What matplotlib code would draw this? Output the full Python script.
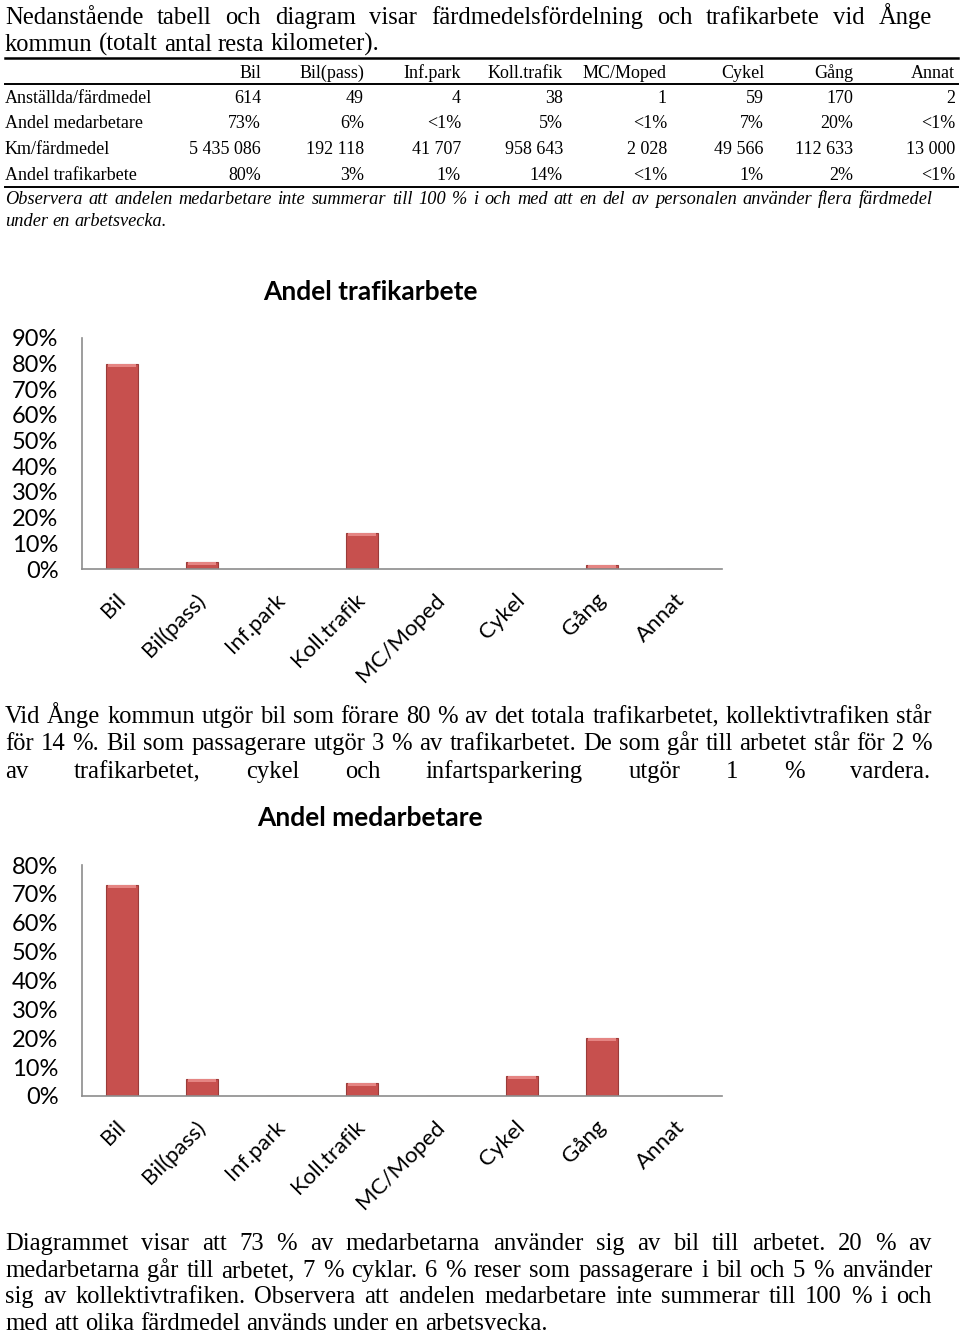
import numpy as np
import matplotlib
matplotlib.use('Agg')
import matplotlib.pyplot as plt
from matplotlib.lines import Line2D
from matplotlib.transforms import IdentityTransform

# Table and chart data (Ånge kommun)
categories = ['Bil', 'Bil(pass)', 'Inf.park', 'Koll.trafik', 'MC/Moped', 'Cykel', 'Gång', 'Annat']
row_names = ['Anställda/färdmedel', 'Andel medarbetare', 'Km/färdmedel', 'Andel trafikarbete']
anstallda = ['614', '49', '4', '38', '1', '59', '170', '2']
andel_med_txt = ['73%', '6%', '<1%', '5%', '<1%', '7%', '20%', '<1%']
km = ['5 435 086', '192 118', '41 707', '958 643', '2 028', '49 566', '112 633', '13 000']
andel_trafik_txt = ['80%', '3%', '1%', '14%', '<1%', '1%', '2%', '<1%']

# bar heights as drawn in the two diagrams
trafikarbete = [0.80, 0.027, 0.0, 0.14, 0.0, 0.0, 0.017, 0.0]
medarbetare = [0.73, 0.058, 0.0, 0.045, 0.0, 0.07, 0.20, 0.0]

W, H = 960, 1338
fig = plt.figure(figsize=(9.6, 13.38), dpi=100)
r = fig.canvas.get_renderer()
SERIF = 'Liberation Serif'
SANS = 'Lato'
PSIZE = 17.7


def put(s, x, y, **kw):
    # x, y in pixels from the top-left corner
    return fig.text(x, H - y, s, transform=IdentityTransform(), **kw)


def line(text, y, x0=5, x1=932, spread=True, size=PSIZE, **kw):
    words = text.split()
    ts = [put(w, x0, y, va='baseline', family=SERIF, fontsize=size, **kw) for w in words]
    ws = [t.get_window_extent(r).width for t in ts]
    gap = size * 100 / 72 * 0.25
    if spread and len(words) > 1:
        gap = (x1 - x0 - sum(ws)) / (len(words) - 1)
    x = x0
    for t, w in zip(ts, ws):
        t.set_x(x)
        x += w + gap


def hline(y, x0=5, x1=958, lw=1.4):
    fig.add_artist(Line2D([x0, x1], [H - y, H - y], transform=IdentityTransform(),
                          lw=lw, color='black'))


# intro text
line('Nedanstående tabell och diagram visar färdmedelsfördelning och trafikarbete vid Ånge', 24)
line('kommun (totalt antal resta kilometer).', 51, spread=False)

# table
col_right = [261, 364, 461, 563, 667, 764, 853, 955]
hline(58, lw=1.8)
hline(84)
hline(187)
tsize = 13
for c, xr in zip(categories, col_right):
    put(c, xr, 78, ha='right', va='baseline', family=SERIF, fontsize=tsize)
rows = [anstallda, andel_med_txt, km, andel_trafik_txt]
for i, (name, vals) in enumerate(zip(row_names, rows)):
    yb = 103 + i * 25.5
    put(name, 5, yb, ha='left', va='baseline', family=SERIF, fontsize=tsize)
    for v, xr in zip(vals, col_right):
        put(v, xr, yb, ha='right', va='baseline', family=SERIF, fontsize=tsize)
line('Observera att andelen medarbetare inte summerar till 100 % i och med att en del av personalen använder flera färdmedel',
     204, x1=933, size=13.2, style='italic')
line('under en arbetsvecka.', 226, spread=False, size=13.2, style='italic')


def chart(vals, top, bottom, ymax, title, title_y):
    ax = fig.add_axes([82 / W, (H - bottom) / H, 640 / W, (bottom - top) / H])
    x = np.arange(len(categories))
    v = np.array(vals)
    ax.bar(x, v, width=0.4, color='#C7504E', edgecolor='#9A3B39', lw=0.8, zorder=2)
    cap = np.minimum(v, ymax * 0.014)
    m = v > 0
    ax.bar(x[m], cap[m], bottom=v[m] - cap[m], width=0.36, color='#E58583', lw=0, zorder=3)
    ax.set_xlim(-0.5, len(categories) - 0.5)
    ax.set_ylim(0, ymax)
    ticks = np.arange(0, ymax + 0.001, 0.1)
    ax.set_yticks(ticks)
    ax.set_yticklabels([f'{int(round(t * 100))}%' for t in ticks], family=SANS, fontsize=17)
    ax.set_xticks(x)
    ax.set_xticklabels(categories, rotation=45, ha='right', va='center',
                       rotation_mode='anchor', family=SANS, fontsize=16)
    for s in ['top', 'right']:
        ax.spines[s].set_visible(False)
    for s in ['left', 'bottom']:
        ax.spines[s].set_color('#8C8C8C')
        ax.spines[s].set_linewidth(1.2)
    ax.tick_params(axis='y', length=0, pad=17)
    ax.tick_params(axis='x', length=0, pad=20)
    put(title, 370, title_y, ha='center', va='center', family=SANS,
        fontweight='bold', fontsize=19)
    return ax


chart(trafikarbete, 338, 569, 0.9, 'Andel trafikarbete', 292)

line('Vid Ånge kommun utgör bil som förare 80 % av det totala trafikarbetet, kollektivtrafiken står', 723)
line('för 14 %. Bil som passagerare utgör 3 % av trafikarbetet. De som går till arbetet står för 2 %', 750)
line('av trafikarbetet, cykel och infartsparkering utgör 1 % vardera.', 778, x1=930)

chart(medarbetare, 865, 1096, 0.8, 'Andel medarbetare', 818)

line('Diagrammet visar att 73 % av medarbetarna använder sig av bil till arbetet.  20 % av', 1250)
line('medarbetarna går till arbetet, 7 % cyklar. 6 % reser som passagerare i bil och 5 % använder', 1277)
line('sig av kollektivtrafiken. Observera att andelen medarbetare inte summerar till 100 % i och', 1303)
line('med att olika färdmedel används under en arbetsvecka.', 1330, spread=False)

fig.savefig('out.png', dpi=100)
